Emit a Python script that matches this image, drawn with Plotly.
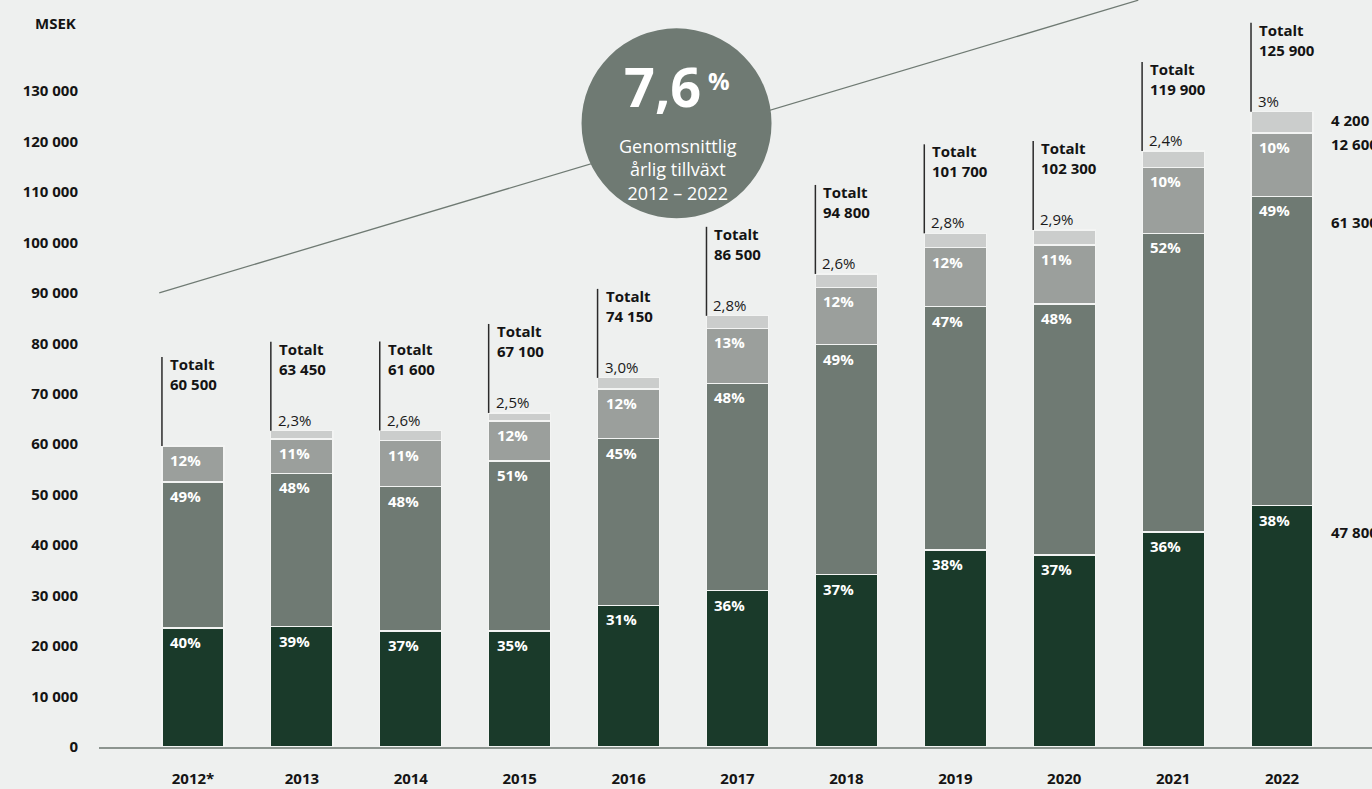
import plotly.graph_objects as go

# ---------------- data ----------------
years = ["2012*", "2013", "2014", "2015", "2016", "2017", "2018", "2019", "2020", "2021", "2022"]
segment_a = [23600, 23840, 23000, 23000, 28100, 31000, 34150, 39050, 38050, 42600, 47800]   # darkest
segment_b = [28900, 30400, 28600, 33700, 33000, 41100, 45600, 48200, 49750, 59200, 61300]
segment_c = [7150, 6800, 9100, 7900, 9850, 10900, 11350, 11700, 11700, 13100, 12600]
segment_d = [None, 1640, 2000, 1600, 2200, 2450, 2650, 2850, 2950, 3200, 4200]            # lightest
pct_a = ["40%", "39%", "37%", "35%", "31%", "36%", "37%", "38%", "37%", "36%", "38%"]
pct_b = ["49%", "48%", "48%", "51%", "45%", "48%", "49%", "47%", "48%", "52%", "49%"]
pct_c = ["12%", "11%", "11%", "12%", "12%", "13%", "12%", "12%", "11%", "10%", "10%"]
pct_d = ["", "2,3%", "2,6%", "2,5%", "3,0%", "2,8%", "2,6%", "2,8%", "2,9%", "2,4%", "3%"]
totals = ["60 500", "63 450", "61 600", "67 100", "74 150", "86 500", "94 800",
          "101 700", "102 300", "119 900", "125 900"]
y_ticks = [0, 10000, 20000, 30000, 40000, 50000, 60000, 70000, 80000, 90000,
           100000, 110000, 120000, 130000]
trend_y = [90000, 148000]
cagr = "7,6"
cagr_lines = ["Genomsnittlig", "årlig tillväxt", "2012 – 2022"]

# ---------------- style ----------------
FONT = "'Open Sans', Lato, sans-serif"
BG = "#eef0ef"
COLORS = ["#1a3a2a", "#6f7a73", "#9b9f9c", "#cbcdcc"]
W = 0.57
xs = list(range(len(years)))

fig = go.Figure()
for vals, col in zip([segment_a, segment_b, segment_c, segment_d], COLORS):
    fig.add_trace(go.Bar(
        x=xs, y=vals, width=W,
        marker=dict(color=col, line=dict(color="#f3f4f3", width=1.2)),
        hoverinfo="skip", showlegend=False,
    ))

ann = []
shapes = []
for i in xs:
    left = i - W / 2
    base = 0
    for vals, pcts in ((segment_a, pct_a), (segment_b, pct_b), (segment_c, pct_c)):
        base += vals[i]
        ann.append(dict(x=left, y=base, xref="x", yref="y", text=f"<b>{pcts[i]}</b>",
                        showarrow=False, xanchor="left", yanchor="middle",
                        xshift=6, yshift=-14, font=dict(color="white", size=15, family=FONT)))
    top = base + (segment_d[i] or 0)
    if pct_d[i]:
        ann.append(dict(x=left, y=top, xref="x", yref="y", text=pct_d[i], showarrow=False,
                        xanchor="left", yanchor="middle", xshift=5, yshift=11,
                        font=dict(color="#1a1a1a", size=15, family=FONT)))
    ann.append(dict(x=left, y=top, xref="x", yref="y", text=f"<b>Totalt<br>{totals[i]}</b>",
                    showarrow=False, align="left", xanchor="left", yanchor="middle",
                    xshift=6, yshift=72, font=dict(color="#141414", size=15, family=FONT)))
    shapes.append(dict(type="line", xref="x", yref="y", x0=left, x1=left,
                       ysizemode="pixel", yanchor=top, y0=0, y1=89,
                       line=dict(color="#2a2a2a", width=1.5), layer="above"))

# right-hand values of the last bar
last = len(years) - 1
right_x = last + W / 2
b1 = segment_a[last]
b2 = b1 + segment_b[last]
b3 = b2 + segment_c[last]
fmt = lambda v: f"{v:,}".replace(",", " ")
for yv, v, ysh in ((b3 + segment_d[last] / 2, segment_d[last], 2),
                   (b3, segment_c[last], -11),
                   (b2, segment_b[last], -26),
                   (b1, segment_a[last], -26)):
    ann.append(dict(x=right_x, y=yv, xref="x", yref="y", text=f"<b>{fmt(v)}</b>", showarrow=False,
                    xanchor="left", yanchor="middle", xshift=16, yshift=ysh,
                    font=dict(color="#141414", size=15, family=FONT)))

# trend line (behind circle)
shapes.insert(0, dict(type="line", xref="x", yref="y", x0=-0.31, y0=trend_y[0], x1=8.68, y1=trend_y[1],
                      line=dict(color="#6f7a73", width=1.3), layer="below"))

# circle
cx, cy = 4.44, 123600
shapes.append(dict(type="circle", xref="x", yref="y", xsizemode="pixel", ysizemode="pixel",
                   xanchor=cx, yanchor=cy, x0=-95, x1=95, y0=-95, y1=95,
                   fillcolor="#6f7a73", line=dict(width=0), layer="above"))
ann.append(dict(x=cx, y=cy, xref="x", yref="y", text=f"<b>{cagr}</b>", showarrow=False,
                xanchor="center", yanchor="middle", xshift=-14, yshift=37,
                font=dict(color="white", size=54, family=FONT)))
ann.append(dict(x=cx, y=cy, xref="x", yref="y", text="<b>%</b>", showarrow=False,
                xanchor="center", yanchor="middle", xshift=42, yshift=43,
                font=dict(color="white", size=24, family=FONT)))
ann.append(dict(x=cx, y=cy, xref="x", yref="y", text="<br>".join(cagr_lines), showarrow=False,
                align="center", xanchor="center", yanchor="middle", xshift=1, yshift=-46,
                font=dict(color="white", size=18, family=FONT)))

# axis title
ann.append(dict(x=0, y=1, xref="paper", yref="paper", text="<b>MSEK</b>", showarrow=False,
                xanchor="right", yanchor="middle", xshift=-21, yshift=-23,
                font=dict(color="#141414", size=15, family=FONT)))

fig.update_layout(
    width=1372, height=789,
    margin=dict(l=99, r=0, t=0, b=42, autoexpand=False),
    paper_bgcolor=BG, plot_bgcolor=BG,
    barmode="stack",
    separators=", ",
    font=dict(family=FONT, color="#141414"),
    annotations=ann, shapes=shapes,
    xaxis=dict(range=[-0.863, 10.826], tickvals=xs, ticktext=years, automargin=False,
               showgrid=False, zeroline=False, showline=True, linecolor="#8c948f", linewidth=1.5,
               ticks="", ticklabelstandoff=17,
               tickfont=dict(size=15, family=FONT, color="#141414", weight="bold"),
               fixedrange=True),
    yaxis=dict(range=[0, 148040], tickvals=y_ticks, tickformat=",d", automargin=False,
               showgrid=False, zeroline=False, showline=False, ticks="",
               ticklabelstandoff=20,
               tickfont=dict(size=15, family=FONT, color="#141414", weight="bold"),
               fixedrange=True),
)

fig.write_html("out.html", config={"displayModeBar": False},
               post_script="document.body.style.margin='0';document.body.style.overflow='hidden';")
